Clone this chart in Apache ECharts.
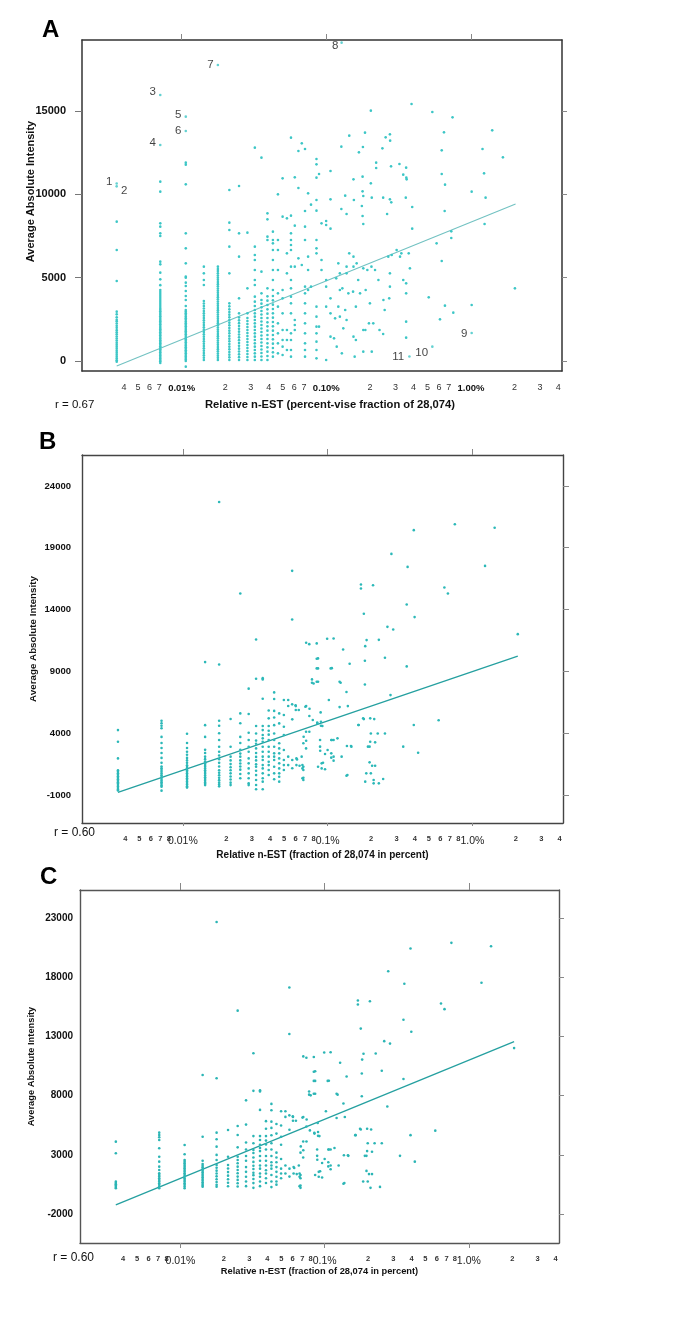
<!DOCTYPE html>
<html><head><meta charset="utf-8">
<script src="https://cdn.jsdelivr.net/npm/echarts@6.0.0/dist/echarts.min.js"></script>
<style>html,body{margin:0;padding:0;background:#fff}#c{width:685px;height:1332px}</style>
</head><body><div id="c"></div><script>
// ---------------- DATA ----------------
const EST_TOTAL = 28074; // x = n-EST count as percent of 28,074

// Panel A: columns of points at integer EST counts (values = average absolute intensity)
const aColN = [1,2,3,4,5,6,7,8,9,10,11,12,13,14,15,16,17,18,19,20,21,22,24,25,26,28,30];
const aCol1 = [-40,40,150,260,380,500,610,740,860,980,1100,1230,1350,1470,1600,1720,1850,1990,2110,2250,2380,2470,2620,2800,2960,4800,6660,8360];
const aCol2 = [-120,-20,60,150,240,330,420,520,610,700,790,880,980,1070,1160,1250,1350,1440,1540,1630,1720,1820,1910,2000,2100,2200,2290,2390,2480,2580,2680,2780,2880,2980,3080,3180,3300,3420,3540,3660,3780,3900,4020,4140,4260,4550,4900,5300,5800,5960,7500,7660,8060,8260,10160,10760];
const aCol3 = [-340,0,90,180,270,360,460,550,640,740,830,930,1020,1120,1210,1310,1400,1500,1600,1690,1790,1880,1980,2080,2170,2270,2370,2470,2570,2670,2770,2870,2970,3060,3300,3660,3900,4200,4500,4700,5000,5060,5860,6760,7660,10600,11780,11900];
const aCol4 = [60,200,340,480,620,760,900,1040,1180,1320,1460,1600,1740,1880,2020,2160,2300,2440,2580,2720,2860,3000,3150,3300,3450,3600,4560,4860,5260,5660];
const aCol5 = [60,190,320,450,580,710,840,970,1100,1230,1360,1490,1620,1750,1880,2010,2140,2270,2400,2530,2660,2790,2920,3050,3180,3310,3440,3570,3700,3830,3960,4090,4220,4350,4480,4610,4740,4870,5000,5130,5260,5400,5520,5660];
const aCol6 = [60,220,380,540,700,860,1020,1180,1340,1500,1660,1820,1980,2140,2300,2460,2620,2780,2940,3100,3280,3460,5260,6860,7860,8300,10260];
const aCol7 = [60,230,400,570,740,910,1080,1250,1420,1590,1760,1930,2100,2270,2440,2610,2860,3760,6260,7660,10500];
const aCol8 = [60,240,420,600,780,960,1140,1320,1500,1680,1860,2040,2220,2400,2580,2860,4360,7700];
const aCol9 = [60,260,460,660,860,1060,1260,1460,1660,1860,2060,2260,2460,2660,2860,3060,3300,3560,3860,4560,4860,5460,6060,6360,6860,12800];
const aCol10 = [60,270,480,690,900,1110,1320,1530,1740,1950,2160,2370,2580,2790,3000,3220,3440,3660,4060,5360,12200];
const aCol11 = [60,300,560,820,1060,1320,1560,1820,2080,2320,2580,2840,3100,3360,3620,3880,4360,7260,7460,8500,8860];
const aCol12 = [260,520,780,1040,1300,1560,1820,2080,2340,2600,2860,3120,3380,3640,3900,4260,4860,5460,6060,6660,7060,7260,7760];
const aCol13 = [460,1060,1660,2260,3260,4060,5460,6660,7260,10000];
const aCol14 = [360,860,1260,1860,2860,3760,4260,8660,10960];
const aCol15 = [660,1260,1860,5260,6460,8560];
const aCol16 = [260,660,1260,1660,2860,3460,3860,4360,4860,5660,6660,6960,7260,7660,8720,13400];
const aCol17 = [1860,2160,2460,5660,8120,11020];
const aCol18 = [6160,10380,12600];
const aCol19 = [5760,13060];
const aCol20 = [260,660,1060,1660,2260,2860,3460,4060,4460,7260,8060,9000,12720];
const aCol21 = [4260,5460,6260,10060];
const aCol22 = [4460,9380];
const aCol24 = [160,660,1160,1660,2060,2660,3260,6460,6760,7260,9020,9660,11000,11800,12120];
const aCol25 = [2060,11220];
const aCol26 = [5460,6060,8260];
const aCol28 = [60,3260,4460,4860,8160,8400];
const aCol30 = [1460,2860,3760,7940,9700,11400];
const aCols = [aCol1,aCol2,aCol3,aCol4,aCol5,aCol6,aCol7,aCol8,aCol9,aCol10,aCol11,aCol12,aCol13,aCol14,aCol15,aCol16,aCol17,aCol18,aCol19,aCol20,aCol21,aCol22,aCol24,aCol25,aCol26,aCol28,aCol30];
// Panel A: scattered points [percent, intensity]
const aScatter = [[0.113,1360],[0.115,2560],[0.117,4960],[0.118,860],[0.121,3260],[0.121,5860],[0.124,4260],[0.124,5260],[0.124,2660],[0.127,12860],[0.127,9120],[0.128,460],[0.129,4360],[0.131,1960],[0.135,9920],[0.135,3060],[0.138,8820],[0.138,5660],[0.138,5260],[0.138,2460],[0.142,4060],[0.144,6460],[0.144,13520],[0.153,4160],[0.154,10900],[0.154,6260],[0.154,5660],[0.154,1460],[0.155,9660],[0.157,260],[0.160,3260],[0.160,1260],[0.162,5860],[0.166,4860],[0.168,12520],[0.171,4060],[0.176,9300],[0.178,11060],[0.178,10180],[0.178,8700],[0.179,12840],[0.180,9900],[0.180,8220],[0.180,5560],[0.180,1860],[0.180,560],[0.185,13700],[0.186,1860],[0.187,4260],[0.192,5460],[0.197,2260],[0.200,3460],[0.203,15020],[0.203,10660],[0.205,5660],[0.206,9800],[0.206,560],[0.211,2260],[0.217,5460],[0.221,11900],[0.221,11580],[0.229,4860],[0.233,1860],[0.244,12760],[0.247,9800],[0.247,1620],[0.248,3660],[0.253,3060],[0.257,13420],[0.263,8820],[0.268,6260],[0.272,3760],[0.275,13600],[0.275,9700],[0.275,5260],[0.275,4460],[0.276,13220],[0.280,11680],[0.281,9520],[0.283,6360],[0.306,6660],[0.320,11820],[0.323,6260],[0.330,6460],[0.340,11180],[0.340,4860],[0.354,9800],[0.356,11600],[0.357,11000],[0.359,10900],[0.356,4660],[0.356,4060],[0.356,2360],[0.356,1400],[0.371,6460],[0.378,5560],[0.388,15420],[0.392,9240],[0.392,7940],[0.54,14940],[0.745,14620],[0.65,13720],[1.40,13840],[0.627,12640],[1.20,12720],[1.66,12220],[0.627,11220],[0.661,10580],[1.23,11260],[1.01,10160],[1.26,9800],[0.657,9000],[1.24,8220],[0.73,7780],[0.73,7380],[0.578,7060],[0.627,6000],[2.01,4360],[0.51,3820],[0.66,3320],[1.01,3360],[0.754,2900],[0.61,2500]];
// Panel A: numbered outliers
const aLabelText = ['1','2','3','4','5','6','7','8','9','10','11'];
const aLabelX = [0.00356,0.00356,0.00712,0.00712,0.01069,0.01069,0.01781,0.1275,1.01,0.54,0.375];
const aLabelY = [10650,10480,15960,12960,14660,13800,17760,19100,1680,860,270];
// Panel A regression line end points
const aFitX = [0.00356, 2.03];
const aFitY = [-300, 9420];

// Panel B
const bColN = [1,2,3,4,5,6,7,8,9,10,11,12,13,14,15];
const bCol1 = [4250,3310,1960,1000,880,760,640,520,400,280,160,40,-80,-200,-320,-440,-560,-640];
const bCol2 = [5000,4800,4600,4400,3700,3200,2800,2400,2000,1600,1300,1160,1020,880,740,600,460,320,180,40,-100,-240,-330,-650];
const bCol3 = [3950,3200,2800,2500,2250,2000,1800,1600,1400,1270,1140,1010,880,750,620,490,360,230,100,-30,-160,-290,-400];
const bCol4 = [9750,4650,3700,2650,2400,2100,1900,1700,1560,1420,1280,1140,1000,860,720,580,440,300,160,20,-100,-200];
const bCol5 = [22700,9550,5000,4600,4000,3450,2900,2500,2200,1900,1600,1300,1000,800,600,400,200,0,-150,-300];
const bCol6 = [5150,2900,2100,1800,1500,1250,1000,750,500,250,0,-200];
const bCol7 = [15300,5600,4800,3700,3200,2650,2350,2100,1800,1550,1300,1050,700,350];
const bCol8 = [7600,5550,4040,3450,2900,2500,1960,1560,1150,750,350,-60,-200];
const bCol9 = [11580,8400,4580,3980,3400,3150,2770,2400,2080,1800,1480,1280,960,610,210,-190,-540];
const bCol10 = [8450,8350,6790,4580,4250,3850,3580,3310,2900,2500,2100,1830,1420,1150,750,350,80,-540];
const bCol11 = [5840,5200,4580,4200,3880,3450,2900,2500,2100,1690,1420,1020,620];
const bCol12 = [7300,6760,5800,5270,4650,3980,3450,2900,2370,2100,1830,1290,750,270];
const bCol13 = [5600,4790,3180,2770,2370,1960,1560,1150,750,480,80];
const bCol14 = [6680,5470,4520,3850,2640,1830,1420,1020];
const bCol15 = [6680,6200,2100,1420];
const bCols = [bCol1,bCol2,bCol3,bCol4,bCol5,bCol6,bCol7,bCol8,bCol9,bCol10,bCol11,bCol12,bCol13,bCol14,bCol15];
const bScatter = [[0.394,20420],[0.757,20900],[1.426,20610],[0.276,18500],[0.357,17450],[1.224,17530],[0.0569,17130],[0.170,16030],[0.170,15700],[0.206,15970],[0.641,15780],[0.678,15300],[0.352,14410],[0.178,13660],[0.399,13390],[0.0569,13200],[0.259,12600],[0.284,12390],[0.0993,11640],[0.110,11660],[0.226,11550],[0.186,11530],[2.06,12010],[0.0711,11310],[0.0747,11200],[0.128,10770],[0.182,11040],[0.0859,10050],[0.249,10100],[0.142,9610],[0.181,9860],[0.0859,9240],[0.107,9260],[0.352,9400],[0.0859,8160],[0.080,8020],[0.121,8160],[0.123,8080],[0.181,7940],[0.135,7330],[0.272,7080],[0.0569,6330],[0.0601,6250],[0.0632,5870],[0.0711,6190],[0.0750,5980],[0.121,6110],[0.138,6190],[0.0895,5680],[0.0570,5120],[0.178,5140],[0.210,5140],[0.585,5040],[0.394,4660],[0.164,4660],[0.0848,4850],[0.092,4580],[0.0683,3710],[0.0711,3390],[0.249,3980],[0.199,3980],[0.107,3450],[0.117,3580],[0.068,3180],[0.136,2960],[0.146,2910],[0.333,2910],[0.213,3260],[0.195,2910],[0.422,2420],[0.0889,2580],[0.096,2310],[0.100,2640],[0.106,2020],[0.110,1780],[0.125,2100],[0.195,1640],[0.213,1370],[0.199,750],[0.0859,1290],[0.093,1610],[0.096,1080],[0.0615,1880],[0.064,1370],[0.068,1290],[0.068,400],[0.068,210],[0.068,1020],[0.057,1830],[0.057,1160],[0.135,560],[0.182,80],[0.226,-60],[0.242,290],[0.0603,6190],[0.0603,5870],[0.0609,1960],[0.0609,1420],[0.0662,2100],[0.067,1420],[0.067,1150],[0.067,350],[0.0702,6140],[0.071,4120],[0.071,2770],[0.0748,5390],[0.0748,4120],[0.078,8080],[0.078,8350],[0.079,5060],[0.0841,11260],[0.0841,10020],[0.0841,9240],[0.0841,8160],[0.085,4790],[0.0887,3450],[0.0887,2910],[0.090,4600],[0.090,4930],[0.091,1560],[0.091,1150],[0.102,6680],[0.105,9240],[0.106,3450],[0.106,2370],[0.110,3450],[0.110,2100],[0.137,620],[0.145,2960],[0.163,4660],[0.176,5200],[0.185,750],[0.190,2910],[0.197,5200],[0.197,3310],[0.203,1370],[0.208,-60],[0.208,210],[0.222,3980]];
const bFitX = [0.00356, 2.06];
const bFitY = [-784, 10234];

// Panel C (low-count columns read separately; the remaining points are the same as in B, without the near-zero ones)
const cColN = [1,2,3,4,5,6,7];
const cCol1 = [4110,3125,730,620,510,400,290,170];
const cCol2 = [4870,4670,4480,4250,3550,2840,2420,2000,1720,1440,1300,1160,1020,880,740,600,460,320,170];
const cCol3 = [3830,3040,2560,2420,2280,2140,2000,1860,1720,1580,1440,1300,1160,1020,880,740,600,460,320,180];
const cCol4 = [9740,4530,2500,2220,2080,1940,1800,1660,1520,1380,1240,1100,960,820,680,540,400,300];
const cCol5 = [22660,9460,4870,4310,3690,2990,2560,2140,1900,1660,1420,1180,940,700,460,310];
const cCol6 = [5100,2840,2140,1840,1540,1240,940,640,340];
const cCol7 = [15175,5430,4670,3630,2840,2560,2280,2000,1720,1440,1160,880,600,320];
const cCols = [cCol1,cCol2,cCol3,cCol4,cCol5,cCol6,cCol7];
const cMinShown = 150;
const cFitX = [0.00356, 2.06];
const cFitY = [-1238, 12555];

// Axis tick labels
const aXTicks = [0.004,0.005,0.006,0.007,0.01,0.02,0.03,0.04,0.05,0.06,0.07,0.1,0.2,0.3,0.4,0.5,0.6,0.7,1,2,3,4];
const aXLabels = ['4','5','6','7','0.01%','2','3','4','5','6','7','0.10%','2','3','4','5','6','7','1.00%','2','3','4'];
const bcXTicks = [0.004,0.005,0.006,0.007,0.008,0.01,0.02,0.03,0.04,0.05,0.06,0.07,0.08,0.1,0.2,0.3,0.4,0.5,0.6,0.7,0.8,1,2,3,4];
const bcXLabels = ['4','5','6','7','8','0.01%','2','3','4','5','6','7','8','0.1%','2','3','4','5','6','7','8','1.0%','2','3','4'];
const decadeTicks = [0.01,0.1,1];
const aYTicks = [0,5000,10000,15000];
const bYTicks = [-1000,4000,9000,14000,19000,24000];
const cYTicks = [-2000,3000,8000,13000,18000,23000];

// ---------------- BUILD ----------------
const pct = n => n * 100 / EST_TOTAL;
function colPoints(ns, cols) {
  const out = [];
  ns.forEach((n, i) => cols[i].forEach(v => out.push([pct(n), v])));
  return out;
}
const aPoints = colPoints(aColN, aCols).concat(aScatter);
const bPoints = colPoints(bColN, bCols).concat(bScatter);
const cPoints = colPoints(cColN, cCols)
  .concat(colPoints(bColN.slice(7), bCols.slice(7)).filter(p => p[1] > cMinShown))
  .concat(bScatter.filter(p => p[1] > 100));

const SANS = "'Liberation Sans',Arial,sans-serif";

function labelFmt(ticks, texts) {
  return function (v) {
    let best = 0, d = Infinity;
    ticks.forEach((t, i) => { const dd = Math.abs(Math.log(t) - Math.log(v)); if (dd < d) { d = dd; best = i; } });
    const s = texts[best];
    return (s.indexOf('%') >= 0 ? '{maj|' : '{min|') + s + '}';
  };
}

function bottomX(gi, min, max, ticks, texts, p) {
  return {
    type: 'log', logBase: 10, gridIndex: gi, position: 'bottom', min, max,
    axisLine: { show: true, onZero: false, lineStyle: { color: p.box, width: p.boxW } },
    axisTick: { show: p.bottomTick > 0, customValues: decadeTicks, length: p.bottomTick, lineStyle: { color: '#888', width: 1 } },
    minorTick: { show: false }, splitLine: { show: false }, minorSplitLine: { show: false },
    axisLabel: {
      show: true, customValues: ticks, formatter: labelFmt(ticks, texts), margin: p.labMargin,
      hideOverlap: false, interval: 0,
      rich: { maj: p.maj, min: p.min }
    },
    name: p.xName, nameLocation: 'middle', nameGap: p.xNameGap, nameMoveOverlap: false,
    nameTextStyle: p.xNameStyle
  };
}
function topX(gi, min, max, p) {
  return {
    type: 'log', logBase: 10, gridIndex: gi, position: 'top', min, max,
    axisLine: { show: true, onZero: false, lineStyle: { color: p.box, width: p.boxW } },
    axisTick: { show: true, customValues: decadeTicks, length: p.topTick, lineStyle: { color: '#888', width: 1 } },
    minorTick: { show: false }, splitLine: { show: false },
    axisLabel: { show: false }
  };
}
function leftY(gi, min, max, ticks, p) {
  return {
    type: 'value', gridIndex: gi, position: 'left', min, max,
    axisLine: { show: true, onZero: false, lineStyle: { color: p.box, width: p.boxW } },
    axisTick: { show: p.leftTick > 0, customValues: ticks, length: p.leftTick, lineStyle: { color: '#777', width: 1 } },
    splitLine: { show: false },
    axisLabel: { customValues: ticks, formatter: v => String(v), margin: p.yLabMargin, fontFamily: SANS, fontSize: p.yLabSize, fontWeight: 'bold', color: '#111' },
    name: 'Average Absolute Intensity', nameLocation: 'middle', nameGap: p.yNameGap, nameMoveOverlap: false,
    nameTextStyle: p.yNameStyle
  };
}
function rightY(gi, min, max, ticks, p) {
  return {
    type: 'value', gridIndex: gi, position: 'right', min, max,
    axisLine: { show: true, onZero: false, lineStyle: { color: p.box, width: p.boxW } },
    axisTick: { show: true, customValues: ticks, length: p.rightTick, lineStyle: { color: '#888', width: 1 } },
    splitLine: { show: false }, axisLabel: { show: false }
  };
}

const pA = {
  box: '#333', boxW: 1.5, bottomTick: 0, topTick: 6, leftTick: 7, rightTick: 5, labMargin: 11,
  maj: { fontFamily: SANS, fontSize: 9.5, fontWeight: 'bold', color: '#111', lineHeight: 12 },
  min: { fontFamily: SANS, fontSize: 9, color: '#333', lineHeight: 12 },
  xName: 'Relative n-EST (percent-vise fraction of 28,074)', xNameGap: 28,
  xNameStyle: { fontFamily: SANS, fontSize: 11.2, fontWeight: 'bold', color: '#111', padding: [0, 0, 0, 16] },
  yLabMargin: 16, yLabSize: 11,
  yNameGap: 46, yNameStyle: { fontFamily: SANS, fontSize: 11, fontWeight: 'bold', color: '#111', padding: [0, 0, 0, 28] }
};
const pB = {
  box: '#444', boxW: 1.4, bottomTick: 3, topTick: 6, leftTick: 0, rightTick: 6, labMargin: 11,
  maj: { fontFamily: SANS, fontSize: 10.5, color: '#222', lineHeight: 12, padding: [2, 0, 0, 0] },
  min: { fontFamily: SANS, fontSize: 7.5, fontWeight: 'bold', color: '#333', lineHeight: 9 },
  xName: 'Relative n-EST (fraction of 28,074 in percent)', xNameGap: 27,
  xNameStyle: { fontFamily: SANS, fontSize: 10, fontWeight: 'bold', color: '#111' },
  yLabMargin: 11, yLabSize: 9.5,
  yNameGap: 44, yNameStyle: { fontFamily: SANS, fontSize: 9.8, fontWeight: 'bold', color: '#111' }
};
const pC = Object.assign({}, pB, {
  box: '#555', bottomTick: 5, topTick: 7, rightTick: 5, xNameGap: 24, yLabMargin: 7, yLabSize: 10, yNameGap: 44,
  xNameStyle: { fontFamily: SANS, fontSize: 9.3, fontWeight: 'bold', color: '#111' },
  yNameStyle: { fontFamily: SANS, fontSize: 9.3, fontWeight: 'bold', color: '#111' }
});

const extA = [0.00205, 4.25], extB = [0.00201, 4.23], extC = [0.00201, 4.22];
const yA = [-600, 19260], yB = [-3265, 26500], yC = [-4450, 25365];

const aLabelPlace = [
  { position: 'left', distance: 3, offset: [0, -2] },
  { position: 'right', distance: 3, offset: [0, 4] },
  { position: 'left', distance: 3, offset: [0, -3] },
  { position: 'left', distance: 3, offset: [0, -2] },
  { position: 'left', distance: 3, offset: [0, -2] },
  { position: 'left', distance: 3, offset: [0, 0] },
  { position: 'left', distance: 3, offset: [0, 0] },
  { position: 'left', distance: 2, offset: [0, 3] },
  { position: 'left', distance: 3, offset: [0, 1] },
  { position: 'left', distance: 3, offset: [0, 6] },
  { position: 'left', distance: 4, offset: [0, 0] }
];

const dotA = '#3cc6c6', dotB = '#2bb8b8', dotC = '#2bb5b5';
function scatterS(xi, yi, data, color, size) {
  return { type: 'scatter', xAxisIndex: xi, yAxisIndex: yi, data, symbol: 'circle', symbolSize: size,
    itemStyle: { color, opacity: 1 }, z: 3, silent: true, large: false };
}
function fitS(xi, yi, xs, ys, color, w) {
  return { type: 'line', xAxisIndex: xi, yAxisIndex: yi, data: xs.map((x, i) => [x, ys[i]]), showSymbol: false,
    symbol: 'none', lineStyle: { color, width: w }, z: 2, silent: true };
}

const option = {
  animation: false,
  backgroundColor: '#fff',
  grid: [
    { left: 82, top: 40, width: 480, height: 331, outerBoundsMode: 'none', containLabel: false },
    { left: 82, top: 455, width: 481, height: 368, outerBoundsMode: 'none', containLabel: false },
    { left: 80, top: 890, width: 479, height: 353, outerBoundsMode: 'none', containLabel: false }
  ],
  xAxis: [
    bottomX(0, extA[0], extA[1], aXTicks, aXLabels, pA), topX(0, extA[0], extA[1], pA),
    bottomX(1, extB[0], extB[1], bcXTicks, bcXLabels, pB), topX(1, extB[0], extB[1], pB),
    bottomX(2, extC[0], extC[1], bcXTicks, bcXLabels, pC), topX(2, extC[0], extC[1], pC)
  ],
  yAxis: [
    leftY(0, yA[0], yA[1], aYTicks, pA), rightY(0, yA[0], yA[1], aYTicks, pA),
    leftY(1, yB[0], yB[1], bYTicks, pB), rightY(1, yB[0], yB[1], bYTicks, pB),
    leftY(2, yC[0], yC[1], cYTicks, pC), rightY(2, yC[0], yC[1], cYTicks, pC)
  ],
  series: [
    fitS(0, 0, aFitX, aFitY, '#72c2c2', 1.1),
    scatterS(0, 0, aPoints, dotA, 2.6),
    {
      type: 'scatter', xAxisIndex: 0, yAxisIndex: 0, symbol: 'circle', symbolSize: 2.6, z: 4, silent: true,
      itemStyle: { color: dotA },
      data: aLabelX.map((x, i) => ({ value: [x, aLabelY[i]], label: Object.assign({ show: true }, aLabelPlace[i]) })),
      label: { show: true, formatter: p => aLabelText[p.dataIndex], fontFamily: SANS, fontSize: 11.5, color: '#111' }
    },
    fitS(2, 2, bFitX, bFitY, '#25a0a0', 1.3),
    scatterS(2, 2, bPoints, dotB, 2.6),
    fitS(4, 4, cFitX, cFitY, '#25a0a0', 1.3),
    scatterS(4, 4, cPoints, dotC, 2.6)
  ],
  graphic: [
    { type: 'text', x: 42, y: 30, style: { text: 'A', fontFamily: SANS, fontSize: 24, fontWeight: 'bold', fill: '#000', align: 'left', verticalAlign: 'middle' } },
    { type: 'text', x: 39, y: 442, style: { text: 'B', fontFamily: SANS, fontSize: 24, fontWeight: 'bold', fill: '#000', align: 'left', verticalAlign: 'middle' } },
    { type: 'text', x: 40, y: 877, style: { text: 'C', fontFamily: SANS, fontSize: 24, fontWeight: 'bold', fill: '#000', align: 'left', verticalAlign: 'middle' } },
    { type: 'text', x: 55, y: 405, style: { text: 'r = 0.67', fontFamily: SANS, fontSize: 11.5, fill: '#111', align: 'left', verticalAlign: 'middle' } },
    { type: 'text', x: 54, y: 833, style: { text: 'r = 0.60', fontFamily: SANS, fontSize: 12, fill: '#111', align: 'left', verticalAlign: 'middle' } },
    { type: 'text', x: 53, y: 1258, style: { text: 'r = 0.60', fontFamily: SANS, fontSize: 12, fill: '#111', align: 'left', verticalAlign: 'middle' } }
  ]
};
const chart = echarts.init(document.getElementById('c'), null, { renderer: 'canvas', width: 685, height: 1332 });
chart.setOption(option);
</script></body></html>
